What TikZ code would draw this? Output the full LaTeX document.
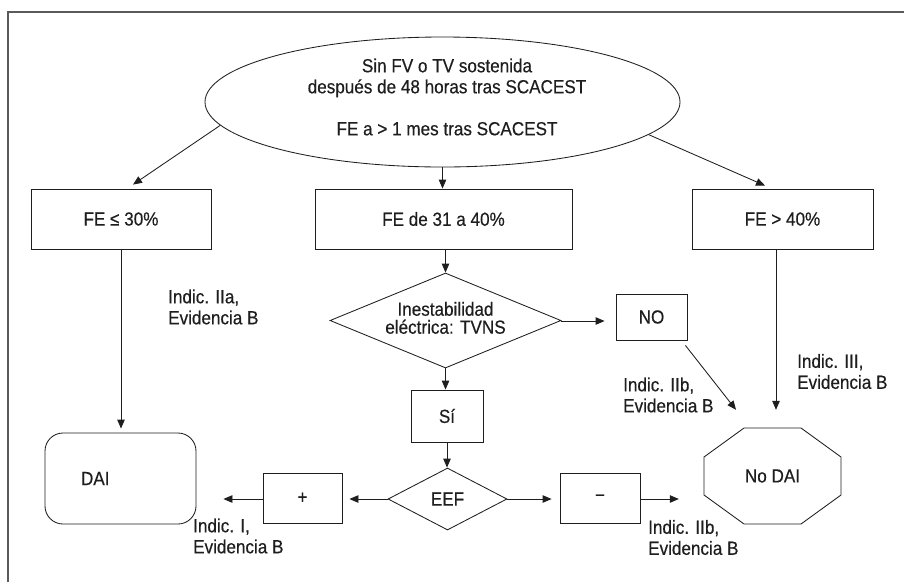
\documentclass[tikz,border=0pt]{standalone}
\usepackage{fontspec}
\setmainfont[FakeStretch=0.9,FakeBold=0.4]{Liberation Sans}
\usetikzlibrary{shapes.geometric,arrows.meta,calc}
\definecolor{ink}{HTML}{1E1E1E}
\definecolor{framegray}{HTML}{5A5A5A}
\begin{document}
\begin{tikzpicture}[x=1pt,y=-1pt,
  every node/.style={font=\fontsize{19}{21}\selectfont, text=ink},
  line/.style={draw=ink, line width=0.85pt},
  stepbox/.style={line, rectangle, inner sep=0pt},
  decision/.style={line, diamond, inner sep=0pt},
  note/.style={anchor=west, align=left, inner sep=0pt},
  flow/.style={line, -{Triangle[length=9pt,width=7.5pt]}}]

\useasboundingbox (0,0) rectangle (904,582);

% outer frame (open on the right and bottom)
\draw[framegray, line width=1.6pt] (8,582) -- (8,12) -- (904,12);

% top condition
\node[line, ellipse, minimum width=475pt, minimum height=130pt, inner sep=0pt] (start) at (442.5,102) {};
\node[align=center, inner sep=0pt] (startText) at (447,97)
  {Sin FV o TV sostenida\\después de 48 horas tras SCACEST\\[21pt]FE a > 1 mes tras SCACEST};

% ejection-fraction ranges
\node[stepbox, minimum width=180pt, minimum height=60pt] (low)  at (121,219)   {FE ≤ 30\%};
\node[stepbox, minimum width=257pt, minimum height=60pt] (mid)  at (443.5,219) {FE de 31 a 40\%};
\node[stepbox, minimum width=181pt, minimum height=60pt] (high) at (782.5,219) {FE > 40\%};

% electrical instability branch
\node[decision, aspect=2.43, minimum width=231pt, minimum height=95pt] (inst) at (445.5,320.5)
  {\begin{tabular}{@{}c@{}}Inestabilidad\\[-3pt]eléctrica: TVNS\end{tabular}};
\node[stepbox, minimum width=71pt, minimum height=46pt] (no) at (651.5,317) {NO};
\node[stepbox, minimum width=72pt, minimum height=52pt] (si) at (447,416) {Sí};

% electrophysiological study
\node[decision, aspect=1.92, minimum width=119pt, minimum height=62pt] (eef) at (447.5,499) {EEF};
\node[stepbox, minimum width=79pt, minimum height=50pt] (pos) at (302.5,498) {+};
\node[stepbox, minimum width=80pt, minimum height=50pt] (neg) at (600,498) {−};

% outcomes
\node[line, rectangle, rounded corners=18pt, minimum width=151pt, minimum height=91pt,
      inner xsep=36pt, text width=79pt, align=left] (dai) at (120.5,478.5) {DAI};
\node[minimum width=137pt, minimum height=96pt, inner sep=0pt] (nodai) at (772.5,476) {No DAI};
\draw[line, shift={(nodai.center)}]
  (-28.5,-48) -- (28.5,-48) -- (68.5,-19) -- (68.5,19) -- (28.5,48)
  -- (-28.5,48) -- (-68.5,19) -- (-68.5,-19) -- cycle;

% connectors
\draw[flow] (start.186.8) -- ([xshift=12pt,yshift=4pt]low.north);
\draw[flow] (start.south) -- (start.south |- mid.north);
\draw[flow] (start.351.9) -- ([xshift=-17.5pt,yshift=3pt]high.north);

\draw[flow, shorten >=4pt] (low.south) -- (low.south |- dai.north);
\draw[flow] ([xshift=2pt]mid.south) -- ([xshift=2pt]mid.south |- inst.north);
\draw[flow, shorten >=11pt] ([yshift=-0.5pt]inst.east) -- ([yshift=-0.5pt]inst.east -| no.west);
\draw[flow] (inst.south) -- (inst.south |- si.north);
\draw[flow] (si.south) -- (si.south |- eef.north);

\draw[flow, shorten >=7pt] (eef.west) -- (eef.west -| pos.east);
\draw[flow, shorten >=27pt] ([yshift=-1pt]pos.west) -- ([yshift=-1pt]pos.west -| dai.east);
\draw[flow, shorten >=8pt] (eef.east) -- (eef.east -| neg.west);
\draw[flow, shorten >=25pt] ([yshift=-1pt]neg.east) -- ([yshift=-1pt]neg.east -| nodai.west);

\draw[flow] ([xshift=-2pt,yshift=-5pt]no.south east) -- ([xshift=-36.5pt,yshift=18pt]nodai.north);
\draw[flow] ([xshift=-6.5pt]high.south) -- ([xshift=3.5pt,yshift=18pt]nodai.north);

% recommendation labels
\node[note] (recIIa) at (168,307)   {Indic. IIa,\\Evidencia B};
\node[note] (recIIbTop) at (623,395) {Indic. IIb,\\Evidencia B};
\node[note] (recIII) at (797,371.5) {Indic. III,\\Evidencia B};
\node[note] (recI) at (193,536)     {Indic. I,\\Evidencia B};
\node[note] (recIIbLow) at (648,537.5) {Indic. IIb,\\Evidencia B};
\end{tikzpicture}
\end{document}
